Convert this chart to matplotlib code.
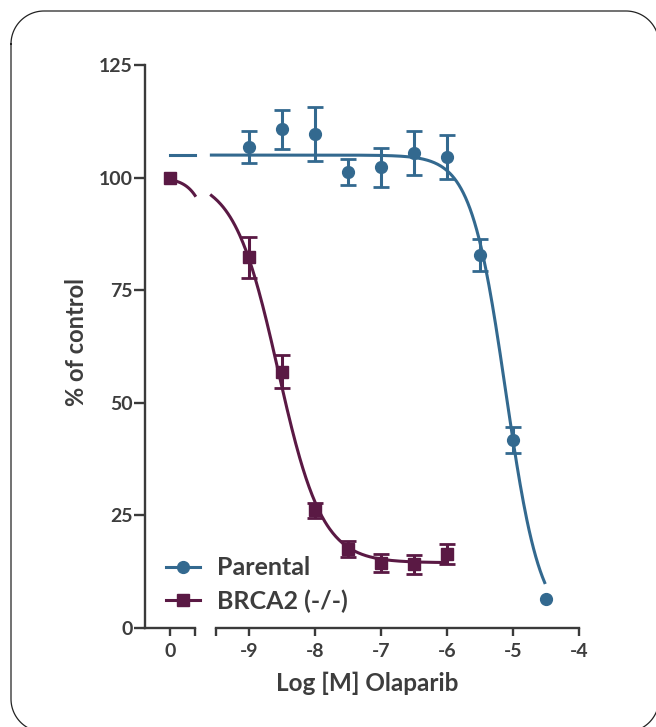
import numpy as np
import matplotlib
matplotlib.use('Agg')
import matplotlib.pyplot as plt
from matplotlib.lines import Line2D

plt.rcParams['font.family'] = ['Lato', 'DejaVu Sans']
plt.rcParams['font.weight'] = 'bold'

# data
log_conc = [-9, -8.5, -8, -7.5, -7, -6.5, -6, -5.5, -5, -4.5]
parental_mean = [106.8, 110.7, 109.7, 101.3, 102.3, 105.5, 104.5, 82.8, 41.7, 6.4]
parental_err = [3.6, 4.4, 6.0, 2.9, 4.3, 4.9, 4.9, 3.6, 2.9, 0.0]

brca2_conc = [-9, -8.5, -8, -7.5, -7, -6.5, -6]
brca2_mean = [82.3, 56.9, 26.1, 17.6, 14.4, 14.1, 16.4]
brca2_err = [4.5, 3.7, 1.6, 1.8, 2.0, 2.0, 2.3]
brca2_control = 100.0

# 4PL fit parameters (top, bottom, logEC50, hill)
parental_fit = [105.0, 0.0, -5.11, 1.65]
brca2_fit = [100.0, 14.5, -8.56, 1.3]

blue = '#33698f'
maroon = '#5a1944'
axcol = '#3a3a3a'
txtcol = '#3d3d3d'


def four_pl(x, p):
    top, bottom, ec50, hill = p
    return bottom + (top - bottom) / (1 + 10 ** ((x - ec50) * hill))


W, H = 656, 727
fig = plt.figure(figsize=(W / 100, H / 100), dpi=100)

# background axes in pixel units (y down) for the rounded frame
bg = fig.add_axes([0, 0, 1, 1])
bg.set_xlim(0, W)
bg.set_ylim(H, 0)
bg.axis('off')
x0, y0, x1, y1, r = 11, 11, 659, 732, 33
t = np.linspace(0, np.pi / 2, 30)
fx = np.concatenate([x0 + r - r * np.cos(t), x1 - r + r * np.sin(t),
                     x1 - r + r * np.cos(t), x0 + r - r * np.sin(t), [x0]])
fy = np.concatenate([y0 + r - r * np.sin(t), y0 + r - r * np.cos(t),
                     y1 - r + r * np.sin(t), y1 - r + r * np.cos(t), [y0 + r]])
bg.plot(fx, fy, color='#222222', lw=0.9, clip_on=False)

y_bot = (H - 628) / H
y_h = (628 - 65) / H
ax0 = fig.add_axes([145 / W, y_bot, 50 / W, y_h])
ax1 = fig.add_axes([216 / W, y_bot, 363 / W, y_h])

for ax in (ax0, ax1):
    ax.set_ylim(0, 125)
    ax.patch.set_visible(False)
    for s in ('top', 'right'):
        ax.spines[s].set_visible(False)
    ax.spines['bottom'].set_linewidth(1.7)
    ax.spines['bottom'].set_color(axcol)
    ax.tick_params(axis='x', which='both', direction='out', length=5.5, width=1.7,
                   color=axcol, labelsize=14, labelcolor=txtcol, pad=5)

ax0.set_xlim(-0.38, 0.38)
ax1.set_xlim(-9.5, -4)
ax1.spines['left'].set_visible(False)
ax1.set_yticks([])
ax0.spines['left'].set_linewidth(1.7)
ax0.spines['left'].set_color(axcol)
ax0.set_yticks([0, 25, 50, 75, 100, 125])
ax0.tick_params(axis='y', direction='out', length=8, width=1.7, color=axcol,
                labelsize=14, labelcolor=txtcol, pad=1)
ax0.set_xticks([0])
ax0.set_xticks([0.38], minor=True)
ax1.set_xticks([-9, -8, -7, -6, -5, -4])
ax1.set_xticklabels(['-9', '-8', '-7', '-6', '-5', '-4'])
ax1.set_xticks([-9.5], minor=True)

# fitted curves; left panel shows the curve compressed from the control position
xl = np.linspace(0, 0.38, 50)
xl_log = np.linspace(-10.3, -9.57, 50)
ax0.plot(xl, four_pl(xl_log, brca2_fit), color=maroon, lw=2.2, clip_on=False, zorder=2)
ax0.plot(xl, four_pl(xl_log, parental_fit), color=blue, lw=2.2, clip_on=False, zorder=2)

xp = np.linspace(-9.57, -4.52, 300)
ax1.plot(xp, four_pl(xp, parental_fit), color=blue, lw=2.2, clip_on=False, zorder=2)
xb = np.linspace(-9.57, -6.0, 300)
ax1.plot(xb, four_pl(xb, brca2_fit), color=maroon, lw=2.2, clip_on=False, zorder=2)

# points with error bars
pc = np.array(log_conc)
pm = np.array(parental_mean)
pe = np.array(parental_err)
has_err = pe > 0
ax1.errorbar(pc[has_err], pm[has_err], yerr=pe[has_err], fmt='o', color=blue, ms=8.5,
             capsize=5.5, capthick=2, elinewidth=2.2, clip_on=False, zorder=3)
ax1.plot(pc[~has_err], pm[~has_err], 'o', color=blue, ms=8.5, clip_on=False, zorder=3)

ax1.errorbar(brca2_conc, brca2_mean, yerr=brca2_err, fmt='s', color=maroon, ms=8.5,
             capsize=5.5, capthick=2, elinewidth=2.2, clip_on=False, zorder=3)
ax0.plot([0], [brca2_control], 's', color=maroon, ms=8.5, clip_on=False, zorder=3)

# axis labels
fig.text(367 / W, 1 - 683 / H, 'Log [M] Olaparib', ha='center', va='center',
         fontsize=17.5, color=txtcol)
fig.text(77 / W, 1 - 342 / H, '% of control', ha='center', va='center', rotation=90,
         fontsize=17, color=txtcol)

# legend
handles = [Line2D([], [], color=blue, lw=2.2, marker='o', ms=8.5),
           Line2D([], [], color=maroon, lw=2.2, marker='s', ms=8.5)]
fig.legend(handles, ['Parental', 'BRCA2 (-/-)'], loc='lower left',
           bbox_to_anchor=(166 / W, 1 - 613 / H), frameon=False, fontsize=18,
           handlelength=1.35, handletextpad=0.7, labelspacing=0.4, borderpad=0,
           borderaxespad=0, labelcolor=txtcol)

fig.savefig('out.png', dpi=100)
